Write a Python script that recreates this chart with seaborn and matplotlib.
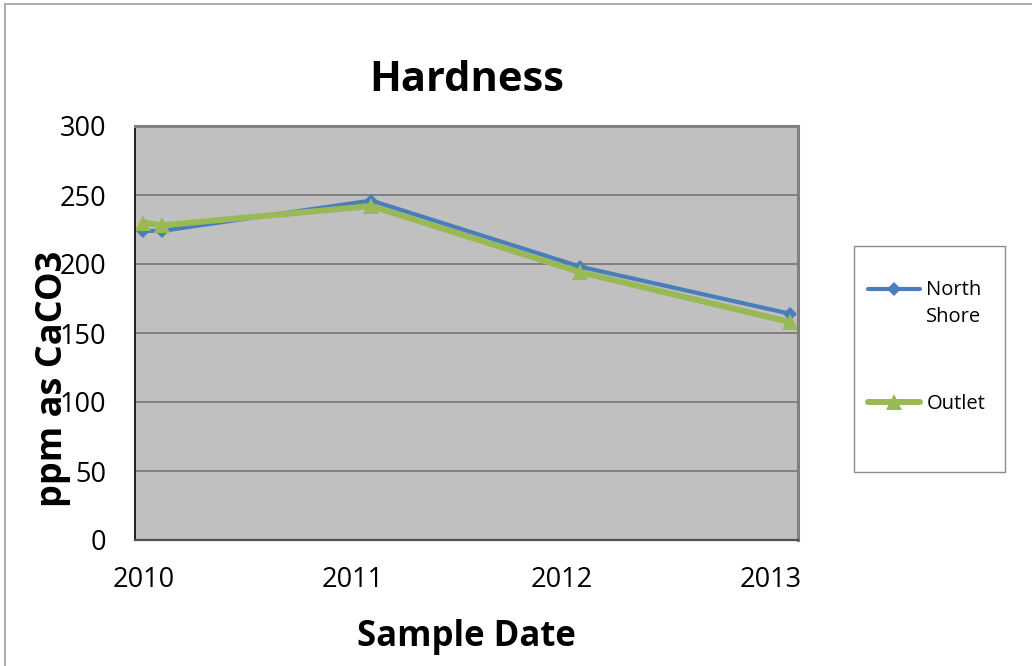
import numpy as np
import pandas as pd
import matplotlib
matplotlib.use("Agg")
import matplotlib.pyplot as plt
import seaborn as sns
from matplotlib.lines import Line2D
from matplotlib.patches import Rectangle
from matplotlib.legend_handler import HandlerLine2D

# Sample dates as decimal years and hardness readings (ppm as CaCO3)
sample_dates = [2010.0, 2010.09, 2011.09, 2012.09, 2013.09]
north_shore = [224, 224, 246, 198, 164]
outlet = [230, 228, 242, 194, 158]
year_ticks = [2010, 2011, 2012, 2013]
year_labels = ["2010", "2011", "2012", "2013"]
y_ticks = [0, 50, 100, 150, 200, 250, 300]

sns.set_theme(style="white")
plt.rcParams["font.family"] = ["Open Sans", "DejaVu Sans"]
plt.rcParams["text.color"] = "black"
plt.rcParams["axes.labelcolor"] = "black"
plt.rcParams["xtick.color"] = "black"
plt.rcParams["ytick.color"] = "black"

df = pd.DataFrame({"date": sample_dates, "north": north_shore, "outlet": outlet})

fig, ax = plt.subplots(figsize=(10.32, 6.66), dpi=100)
fig.subplots_adjust(left=135 / 1032, right=798 / 1032,
                    bottom=(666 - 540) / 666, top=(666 - 126) / 666)
ax.set_facecolor("#C0C0C0")

sns.lineplot(data=df, x="date", y="north", ax=ax, color="#4A7EBB", lw=3.0,
             marker="D", markersize=7.5, markeredgewidth=0,
             label="North\nShore", legend=False)
sns.lineplot(data=df, x="date", y="outlet", ax=ax, color="#98B954", lw=4.3,
             marker="^", markersize=11.5, markeredgewidth=0,
             label="Outlet", legend=False)

ax.set_xlim(2009.96, 2013.13)
ax.set_ylim(0, 300)
ax.set_xticks(year_ticks)
ax.set_xticklabels(year_labels)
ax.set_yticks(y_ticks)
ax.tick_params(axis="x", length=0, pad=19, labelsize=19.5, labelcolor="black")
ax.tick_params(axis="y", length=6.5, width=1.0, pad=14, labelsize=19.5,
               color="#808080", labelcolor="black", direction="out")

ax.yaxis.grid(True, color="#6E6E6E", lw=1.1)
ax.xaxis.grid(False)
ax.set_axisbelow(True)

for side in ("top", "right"):
    ax.spines[side].set_color("#808080")
    ax.spines[side].set_linewidth(2.2)
ax.spines["left"].set_color("#202020")
ax.spines["left"].set_linewidth(1.4)
ax.spines["bottom"].set_color("#505050")
ax.spines["bottom"].set_linewidth(1.6)

ax.set_title("Hardness", fontsize=30, fontweight="bold", pad=25, color="black")
ax.set_xlabel("Sample Date", fontsize=25, fontweight="bold", color="black")
ax.xaxis.set_label_coords(0.5, -0.19)
ax.set_ylabel("ppm as CaCO3", fontsize=26, fontweight="bold", color="black")
ax.yaxis.label.set(ha="center", va="center", rotation_mode="default")
ax.yaxis.set_label_coords(-0.123, 0.39)


class FirstLineHandler(HandlerLine2D):
    """Line handler that lifts the sample to sit beside the first label line."""

    def __init__(self, shift=0.0, **kw):
        super().__init__(**kw)
        self.shift = shift

    def create_artists(self, legend, orig_handle, xdescent, ydescent,
                       width, height, fontsize, trans):
        artists = super().create_artists(legend, orig_handle, xdescent, ydescent,
                                         width, height, fontsize, trans)
        for a in artists:
            a.set_ydata(np.asarray(a.get_ydata(), dtype=float) + self.shift * fontsize)
        return artists


handles = list(ax.get_lines()[:2])
labels = ["North\nShore", "Outlet"]
leg = fig.legend(handles, labels, loc="center left",
                 bbox_to_anchor=(868 / 1032, (666 - 347) / 666),
                 frameon=False, fontsize=14.5, numpoints=1,
                 handlelength=2.6, handletextpad=0.3, labelspacing=3.3,
                 borderpad=0, borderaxespad=0,
                 handler_map={handles[0]: FirstLineHandler(shift=0.75)})
leg.get_texts()[0].set_linespacing(1.45)
for t in leg.get_texts():
    t.set_color("black")

# Legend frame
fig.add_artist(Rectangle((854 / 1032, (666 - 472) / 666), 151 / 1032, 226 / 666,
                         transform=fig.transFigure, fill=False,
                         edgecolor="#8C8C8C", lw=1.0))

# Chart-area outline along the left and top edges
fig.add_artist(Line2D([5 / 1032, 5 / 1032], [0, 1 - 4 / 666],
                      transform=fig.transFigure, color="#A6A6A6", lw=1.3))
fig.add_artist(Line2D([5 / 1032, 1], [1 - 4 / 666, 1 - 4 / 666],
                      transform=fig.transFigure, color="#A6A6A6", lw=1.3))

fig.savefig("out.png", dpi=100)
